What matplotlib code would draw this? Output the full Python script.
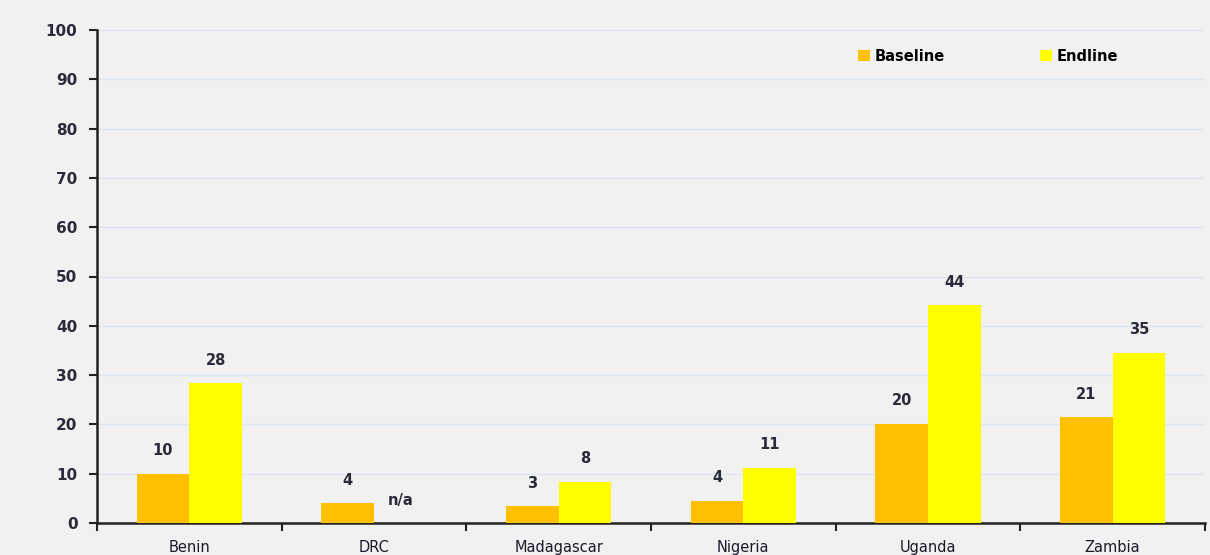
import numpy as np
import matplotlib
matplotlib.use("Agg")
import matplotlib.pyplot as plt

countries = ["Benin", "DRC", "Madagascar", "Nigeria", "Uganda", "Zambia"]
baseline = [10, 4, 3.4, 4.5, 20.1, 21.4]
endline = [28.3, np.nan, 8.4, 11.2, 44.2, 34.5]
baseline_labels = ["10", "4", "3", "4", "20", "21"]
endline_labels = ["28", "n/a", "8", "11", "44", "35"]

bg = "#F1F1F1"
fig = plt.figure(figsize=(12.1, 5.55), dpi=100, facecolor=bg)
ax = fig.add_axes([97 / 1210, 32 / 555, 1108 / 1210, 493 / 555], facecolor=bg)

x = np.arange(len(countries))
w = 0.285
b1 = ax.bar(x - w / 2, baseline, w, color="#FFC000", label="Baseline", zorder=3)
b2 = ax.bar(x + w / 2, np.nan_to_num(endline), w, color="#FFFF00", label="Endline", zorder=3)

for bars, labels in [(b1, baseline_labels), (b2, endline_labels)]:
    for rect, lab in zip(bars, labels):
        ax.annotate(lab, (rect.get_x() + rect.get_width() / 2, rect.get_height()),
                    xytext=(0, 16.5), textcoords="offset points", ha="center", va="center",
                    fontsize=10.5, fontweight="bold", color="#2a2a3a")

ax.set_xlim(-0.5, len(countries) - 0.5)
ax.set_ylim(0, 100)
ax.set_yticks(range(0, 101, 10))
ax.yaxis.grid(True, color="#DCE6F2", linewidth=1, zorder=0)
ax.set_axisbelow(True)

ax.set_xticks(np.arange(len(countries) + 1) - 0.5)
ax.set_xticklabels([])
ax.set_xticks(x, minor=True)
ax.set_xticklabels(countries, minor=True, fontsize=10.5, color="#1a1a2a")
ax.tick_params(axis="x", which="minor", length=0, pad=12)
ax.tick_params(axis="x", which="major", direction="out", length=6, width=1.5, color="#222222")
ax.tick_params(axis="y", direction="out", length=6, width=1.5, color="#222222", pad=8)
for t in ax.get_yticklabels():
    t.set_fontweight("bold")
    t.set_fontsize(11)
    t.set_color("#2a2a3a")

for s in ["top", "right"]:
    ax.spines[s].set_visible(False)
for s in ["left", "bottom"]:
    ax.spines[s].set_color("#222222")
    ax.spines[s].set_linewidth(1.8)

leg = ax.legend(ncol=2, loc="center left", bbox_to_anchor=(0.675, 0.947), frameon=False,
                handlelength=0.85, handleheight=0.85, handletextpad=0.3, columnspacing=6.5,
                prop={"weight": "bold", "size": 10.5})

fig.savefig("out.png", dpi=100, facecolor=bg)
